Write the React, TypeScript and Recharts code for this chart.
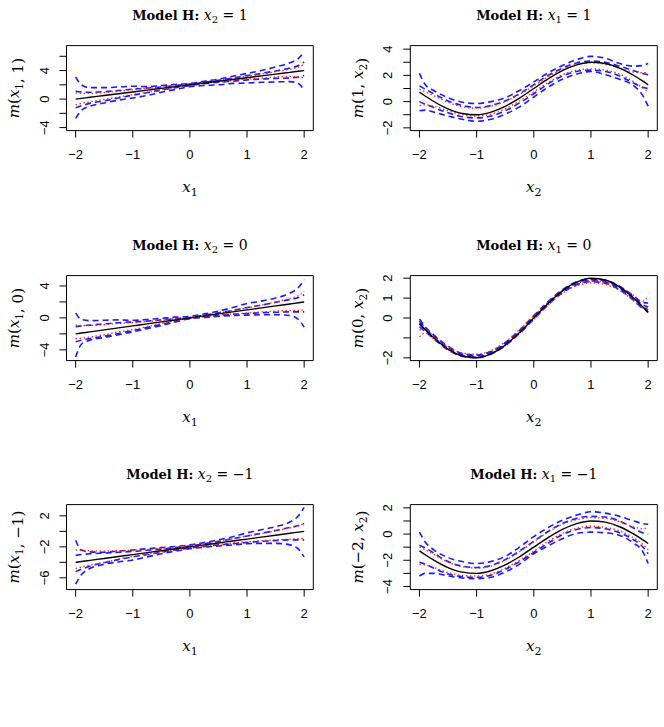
import React from "react";
import { LineChart, Line, XAxis, YAxis, ReferenceArea } from "recharts";

// Evaluation grid shared by every panel
const gridX = [-2, -1.9, -1.75, -1.5, -1.25, -1, -0.75, -0.5, -0.25, 0, 0.25, 0.5, 0.75, 1, 1.25, 1.5, 1.75, 1.9, 2];
const xTicks = [-2, -1, 0, 1, 2];

// Slice x2 = 1 : m(x1, 1)
const x2Is1True = [0, 0.1, 0.25, 0.5, 0.75, 1, 1.25, 1.5, 1.75, 2, 2.25, 2.5, 2.75, 3, 3.25, 3.5, 3.75, 3.9, 4];
const x2Is1OuterHi = [3.1, 2.0, 1.6, 1.6, 1.7, 1.8, 1.75, 1.9, 2.05, 2.2, 2.5, 2.8, 3.2, 3.6, 4.0, 4.5, 5.1, 5.7, 6.6];
const x2Is1InnerHi = [1.1, 1.0, 0.95, 1.05, 1.2, 1.4, 1.55, 1.7, 1.9, 2.1, 2.35, 2.65, 2.95, 3.3, 3.6, 3.95, 4.35, 4.7, 5.2];
const x2Is1MeanHi = [0.85, 0.8, 0.8, 0.9, 1.1, 1.3, 1.5, 1.65, 1.85, 2.05, 2.3, 2.6, 2.9, 3.2, 3.5, 3.85, 4.2, 4.5, 4.9];
const x2Is1MeanLo = [-0.8, -0.6, -0.4, -0.05, 0.3, 0.65, 0.95, 1.3, 1.6, 1.95, 2.2, 2.4, 2.6, 2.8, 2.95, 3.1, 3.2, 3.1, 3.0];
const x2Is1InnerLo = [-1.2, -0.95, -0.6, -0.25, 0.15, 0.55, 0.9, 1.25, 1.6, 1.9, 2.15, 2.35, 2.5, 2.7, 2.8, 2.9, 2.95, 3.1, 3.3];
const x2Is1OuterLo = [-2.7, -1.6, -1.0, -0.55, -0.15, 0.15, 0.5, 0.95, 1.35, 1.75, 1.9, 2.0, 2.2, 2.25, 2.35, 2.4, 2.45, 2.2, 1.2];

// Slice x1 = 1 : m(1, x2)
const x1Is1True = [0.72, 0.43, 0.01, -0.56, -0.91, -1.0, -0.8, -0.36, 0.27, 1.0, 1.73, 2.36, 2.8, 3.0, 2.91, 2.56, 1.99, 1.58, 1.28];
const x1Is1OuterHi = [2.15, 1.3, 0.85, 0.3, -0.05, -0.15, 0.0, 0.3, 0.85, 1.5, 2.2, 2.75, 3.2, 3.45, 3.3, 2.9, 2.7, 2.75, 2.9];
const x1Is1InnerHi = [1.2, 0.95, 0.6, 0.05, -0.3, -0.45, -0.3, 0.05, 0.6, 1.3, 2.0, 2.55, 2.95, 3.1, 3.0, 2.7, 2.35, 2.15, 2.05];
const x1Is1MeanHi = [0.95, 0.75, 0.45, -0.05, -0.4, -0.5, -0.35, 0.0, 0.55, 1.2, 1.9, 2.45, 2.85, 2.95, 2.85, 2.55, 2.25, 2.2, 2.2];
const x1Is1MeanLo = [-0.3, -0.25, -0.35, -0.7, -1.0, -1.1, -0.95, -0.55, 0.05, 0.75, 1.45, 2.05, 2.4, 2.5, 2.4, 2.1, 1.5, 1.05, 0.75];
const x1Is1InnerLo = [0.0, -0.2, -0.45, -0.85, -1.15, -1.25, -1.1, -0.7, -0.1, 0.6, 1.35, 1.95, 2.3, 2.4, 2.3, 1.95, 1.4, 1.1, 1.0];
const x1Is1OuterLo = [-0.7, -0.65, -0.8, -1.1, -1.35, -1.5, -1.35, -0.95, -0.4, 0.35, 1.1, 1.7, 2.1, 2.3, 2.05, 1.7, 1.2, 0.5, -0.35];

// Slice x2 = 0 : m(x1, 0)
const x2Is0True = [-2, -1.9, -1.75, -1.5, -1.25, -1, -0.75, -0.5, -0.25, 0, 0.25, 0.5, 0.75, 1, 1.25, 1.5, 1.75, 1.9, 2];
const x2Is0OuterHi = [0.6, -0.2, -0.35, -0.3, -0.25, -0.3, -0.2, -0.05, 0.1, 0.2, 0.5, 0.85, 1.3, 1.8, 2.1, 2.5, 3.1, 3.8, 4.8];
const x2Is0InnerHi = [-1.1, -1.0, -0.9, -0.75, -0.6, -0.5, -0.4, -0.25, -0.1, 0.05, 0.35, 0.65, 0.95, 1.3, 1.6, 1.95, 2.3, 2.55, 2.9];
const x2Is0MeanHi = [-0.9, -0.95, -0.95, -0.85, -0.7, -0.6, -0.45, -0.3, -0.1, 0.05, 0.35, 0.6, 0.9, 1.25, 1.6, 2.0, 2.45, 2.8, 3.3];
const x2Is0MeanLo = [-2.6, -2.55, -2.4, -2.1, -1.75, -1.45, -1.1, -0.7, -0.35, -0.05, 0.15, 0.35, 0.5, 0.6, 0.75, 0.85, 0.95, 0.95, 1.0];
const x2Is0InnerLo = [-3.0, -2.8, -2.6, -2.3, -1.95, -1.6, -1.2, -0.8, -0.4, -0.05, 0.15, 0.3, 0.45, 0.55, 0.65, 0.7, 0.75, 0.75, 0.75];
const x2Is0OuterLo = [-4.9, -3.3, -2.8, -2.45, -2.1, -1.75, -1.35, -0.95, -0.5, -0.1, 0.05, 0.2, 0.3, 0.35, 0.4, 0.4, 0.3, -0.2, -1.15];

// Slice x1 = 0 : m(0, x2)
const x1Is0True = [-0.28, -0.58, -0.99, -1.56, -1.91, -2.0, -1.8, -1.36, -0.73, 0, 0.73, 1.36, 1.8, 2.0, 1.91, 1.56, 0.99, 0.58, 0.28];
const x1Is0OuterHi = [-0.05, -0.45, -0.85, -1.42, -1.78, -1.86, -1.68, -1.24, -0.62, 0.12, 0.82, 1.42, 1.82, 1.97, 1.9, 1.6, 1.1, 0.78, 0.75];
const x1Is0InnerHi = [-0.15, -0.5, -0.9, -1.47, -1.82, -1.9, -1.72, -1.28, -0.66, 0.07, 0.78, 1.38, 1.78, 1.93, 1.86, 1.55, 1.02, 0.68, 0.55];
const x1Is0MeanHi = [-0.6, -0.6, -0.92, -1.45, -1.76, -1.82, -1.64, -1.2, -0.58, 0.12, 0.8, 1.38, 1.74, 1.86, 1.8, 1.55, 1.12, 0.85, 1.1];
const x1Is0MeanLo = [-0.95, -0.75, -1.05, -1.6, -1.9, -1.96, -1.8, -1.38, -0.76, -0.06, 0.65, 1.24, 1.62, 1.76, 1.68, 1.38, 0.86, 0.5, 0.55];
const x1Is0InnerLo = [-0.3, -0.6, -0.98, -1.54, -1.88, -1.95, -1.77, -1.33, -0.72, 0.0, 0.72, 1.32, 1.72, 1.87, 1.8, 1.48, 0.95, 0.58, 0.4];
const x1Is0OuterLo = [-0.45, -0.68, -1.05, -1.6, -1.93, -2.0, -1.82, -1.39, -0.78, -0.06, 0.66, 1.27, 1.67, 1.82, 1.75, 1.42, 0.88, 0.5, 0.3];

// Slice x2 = -1 : m(x1, -1)
const x2IsM1True = [-4, -3.9, -3.75, -3.5, -3.25, -3, -2.75, -2.5, -2.25, -2, -1.75, -1.5, -1.25, -1, -0.75, -0.5, -0.25, -0.1, 0];
const x2IsM1OuterHi = [-1.15, -2.4, -2.65, -2.7, -2.55, -2.4, -2.25, -2.1, -1.95, -1.75, -1.45, -1.1, -0.7, -0.2, 0.2, 0.6, 1.2, 2.0, 3.1];
const x2IsM1InnerHi = [-3.1, -3.0, -2.9, -2.8, -2.7, -2.6, -2.45, -2.3, -2.1, -1.9, -1.6, -1.3, -0.95, -0.6, -0.25, 0.1, 0.5, 0.75, 1.0];
const x2IsM1MeanHi = [-2.4, -2.45, -2.5, -2.55, -2.5, -2.45, -2.35, -2.2, -2.05, -1.85, -1.55, -1.25, -0.95, -0.6, -0.3, 0.05, 0.45, 0.7, 1.0];
const x2IsM1MeanLo = [-4.8, -4.6, -4.35, -4.0, -3.6, -3.25, -2.95, -2.65, -2.35, -2.1, -1.9, -1.7, -1.5, -1.35, -1.2, -1.1, -1.0, -0.95, -0.9];
const x2IsM1InnerLo = [-5.2, -4.9, -4.5, -4.05, -3.65, -3.3, -3.0, -2.7, -2.4, -2.15, -1.95, -1.75, -1.6, -1.45, -1.3, -1.2, -1.1, -1.1, -1.1];
const x2IsM1OuterLo = [-6.8, -5.6, -4.8, -4.25, -3.95, -3.7, -3.3, -2.9, -2.55, -2.25, -2.05, -1.9, -1.75, -1.6, -1.55, -1.55, -1.75, -2.3, -3.3];

// Slice x1 = -1 : m(-2, x2)
const x1IsM1True = [-1.28, -1.58, -1.99, -2.56, -2.91, -3.0, -2.8, -2.36, -1.73, -1.0, -0.27, 0.36, 0.8, 1.0, 0.91, 0.56, -0.01, -0.42, -0.72];
const x1IsM1OuterHi = [0.15, -0.6, -1.2, -1.8, -2.1, -2.25, -2.1, -1.7, -1.0, -0.2, 0.5, 1.05, 1.45, 1.7, 1.6, 1.35, 1.0, 0.8, 0.75];
const x1IsM1InnerHi = [-0.85, -1.05, -1.45, -2.1, -2.45, -2.55, -2.4, -1.95, -1.3, -0.55, 0.2, 0.8, 1.2, 1.35, 1.3, 1.0, 0.45, 0.1, 0.0];
const x1IsM1MeanHi = [-1.0, -1.2, -1.55, -2.15, -2.5, -2.6, -2.45, -2.0, -1.35, -0.6, 0.15, 0.75, 1.1, 1.25, 1.2, 0.95, 0.55, 0.4, 0.5];
const x1IsM1MeanLo = [-2.3, -2.35, -2.55, -2.95, -3.15, -3.2, -3.05, -2.6, -2.0, -1.3, -0.55, 0.05, 0.45, 0.6, 0.5, 0.25, -0.3, -0.75, -1.2];
const x1IsM1InnerLo = [-2.15, -2.3, -2.6, -3.05, -3.25, -3.3, -3.15, -2.7, -2.1, -1.4, -0.7, -0.05, 0.35, 0.5, 0.4, 0.1, -0.45, -0.95, -1.5];
const x1IsM1OuterLo = [-3.2, -3.0, -3.0, -3.2, -3.35, -3.4, -3.3, -2.9, -2.3, -1.5, -0.9, -0.35, 0.05, 0.15, 0.1, -0.1, -0.7, -1.3, -2.25];

// Y axis ticks (all tick marks) and the subset that carries a label
const yTicksA = [-4, -2, 0, 2, 4, 6];
const yLabelsA = [-4, 0, 4];
const yTicksB = [-2, -1, 0, 1, 2, 3, 4];
const yLabelsB = [-2, 0, 2, 4];
const yTicksC = [-4, -2, 0, 2, 4];
const yLabelsC = [-4, 0, 4];
const yTicksD = [-2, -1, 0, 1, 2];
const yLabelsD = [-2, 0, 1, 2];
const yTicksE = [-6, -4, -2, 0, 2];
const yLabelsE = [-6, -2, 2];
const yTicksF = [-4, -3, -2, -1, 0, 1, 2];
const yLabelsF = [-4, -2, 0, 2];

const SANS = "'Liberation Sans', Arial, Helvetica, sans-serif";
const SERIF = "'DejaVu Serif', 'Liberation Serif', serif";
const MINUS = "\u2212";
const fmt = (v: number) => (v < 0 ? MINUS + Math.abs(v) : String(v));

const PANEL_W = 332;
const PANEL_H = 230;
const PLOT_TOP = 45.6;
const PLOT_H = 85;
const X_DOMAIN: [number, number] = [-2.16, 2.16];
const COLS = [
  { left: 0, plotLeft: 66.5, right: 18.7 },
  { left: 332, plotLeft: 78.3, right: 6.7 },
];
const ROWS = [0, 230, 459];

type Spec = {
  col: number;
  row: number;
  fixed: string;
  fixedVal: string;
  yArgs: [string, string];
  xVar: string;
  yDomain: [number, number];
  yTicks: number[];
  yLabels: number[];
  truth: number[];
  outerHi: number[];
  innerHi: number[];
  meanHi: number[];
  meanLo: number[];
  innerLo: number[];
  outerLo: number[];
};

const specs: Spec[] = [
  { col: 0, row: 0, fixed: "2", fixedVal: "1", yArgs: ["x1", "1"], xVar: "1", yDomain: [-4.42, 7.5], yTicks: yTicksA, yLabels: yLabelsA,
    truth: x2Is1True, outerHi: x2Is1OuterHi, innerHi: x2Is1InnerHi, meanHi: x2Is1MeanHi, meanLo: x2Is1MeanLo, innerLo: x2Is1InnerLo, outerLo: x2Is1OuterLo },
  { col: 1, row: 0, fixed: "1", fixedVal: "1", yArgs: ["1", "x2"], xVar: "2", yDomain: [-2.21, 4.27], yTicks: yTicksB, yLabels: yLabelsB,
    truth: x1Is1True, outerHi: x1Is1OuterHi, innerHi: x1Is1InnerHi, meanHi: x1Is1MeanHi, meanLo: x1Is1MeanLo, innerLo: x1Is1InnerLo, outerLo: x1Is1OuterLo },
  { col: 0, row: 1, fixed: "2", fixedVal: "0", yArgs: ["x1", "0"], xVar: "1", yDomain: [-5.35, 5.3], yTicks: yTicksC, yLabels: yLabelsC,
    truth: x2Is0True, outerHi: x2Is0OuterHi, innerHi: x2Is0InnerHi, meanHi: x2Is0MeanHi, meanLo: x2Is0MeanLo, innerLo: x2Is0InnerLo, outerLo: x2Is0OuterLo },
  { col: 1, row: 1, fixed: "1", fixedVal: "0", yArgs: ["0", "x2"], xVar: "2", yDomain: [-2.14, 2.13], yTicks: yTicksD, yLabels: yLabelsD,
    truth: x1Is0True, outerHi: x1Is0OuterHi, innerHi: x1Is0InnerHi, meanHi: x1Is0MeanHi, meanLo: x1Is0MeanLo, innerLo: x1Is0InnerLo, outerLo: x1Is0OuterLo },
  { col: 0, row: 2, fixed: "2", fixedVal: MINUS + "1", yArgs: ["x1", MINUS + "1"], xVar: "1", yDomain: [-7.52, 3.45], yTicks: yTicksE, yLabels: yLabelsE,
    truth: x2IsM1True, outerHi: x2IsM1OuterHi, innerHi: x2IsM1InnerHi, meanHi: x2IsM1MeanHi, meanLo: x2IsM1MeanLo, innerLo: x2IsM1InnerLo, outerLo: x2IsM1OuterLo },
  { col: 1, row: 2, fixed: "1", fixedVal: MINUS + "1", yArgs: [MINUS + "2", "x2"], xVar: "2", yDomain: [-4.24, 2.25], yTicks: yTicksF, yLabels: yLabelsF,
    truth: x1IsM1True, outerHi: x1IsM1OuterHi, innerHi: x1IsM1InnerHi, meanHi: x1IsM1MeanHi, meanLo: x1IsM1MeanLo, innerLo: x1IsM1InnerLo, outerLo: x1IsM1OuterLo },
];

const BLUE_KEYS = ["outerHi", "innerHi", "innerLo", "outerLo"];
const RED_KEYS = ["meanHi", "meanLo"];

// argument of m(.,.) : either a subscripted variable or a constant
function MathArg({ a }: { a: string }) {
  if (a[0] === "x") {
    return (
      <>
        <tspan fontStyle="italic">x</tspan>
        <tspan fontSize={10.5} dy={3.5}>{a.slice(1)}</tspan>
        <tspan dy={-3.5}>{""}</tspan>
      </>
    );
  }
  return <tspan>{a}</tspan>;
}

function Panel({ spec }: { spec: Spec }) {
  const col = COLS[spec.col];
  const top = ROWS[spec.row];
  const plotW = PANEL_W - col.plotLeft - col.right;
  const plotBottom = PLOT_TOP + PLOT_H;
  const cx = col.plotLeft + plotW / 2;
  const cy = PLOT_TOP + PLOT_H / 2;
  const data = gridX.map((x, i) => ({
    x,
    truth: spec.truth[i],
    outerHi: spec.outerHi[i],
    innerHi: spec.innerHi[i],
    meanHi: spec.meanHi[i],
    meanLo: spec.meanLo[i],
    innerLo: spec.innerLo[i],
    outerLo: spec.outerLo[i],
  }));
  const yLabX = col.plotLeft - 47;
  const yTickX = col.plotLeft - 17.8;

  return (
    <div style={{ position: "absolute", left: col.left, top, width: PANEL_W, height: PANEL_H }}>
      <LineChart width={PANEL_W} height={PANEL_H} data={data} margin={{ top: PLOT_TOP, right: col.right, bottom: 0, left: 0 }}>
        <XAxis
          type="number"
          dataKey="x"
          domain={X_DOMAIN}
          allowDataOverflow
          ticks={xTicks}
          interval={0}
          height={PANEL_H - plotBottom}
          axisLine={false}
          tickSize={7}
          tickLine={{ stroke: "#000", strokeWidth: 1 }}
          tick={(p: any) => (
            <text x={p.x} y={plotBottom + 28.7} textAnchor="middle" fontFamily={SANS} fontSize={13} fill="#000">
              {fmt(p.payload.value)}
            </text>
          )}
        />
        <YAxis
          type="number"
          domain={spec.yDomain}
          allowDataOverflow
          ticks={spec.yTicks}
          interval={0}
          width={col.plotLeft}
          axisLine={false}
          tickSize={7}
          tickLine={{ stroke: "#000", strokeWidth: 1 }}
          tick={(p: any) =>
            spec.yLabels.includes(p.payload.value) ? (
              <text x={yTickX} y={p.y} transform={`rotate(-90 ${yTickX} ${p.y})`} textAnchor="middle" fontFamily={SANS} fontSize={13} fill="#000">
                {fmt(p.payload.value)}
              </text>
            ) : (
              <g />
            )
          }
        />
        {BLUE_KEYS.map((k) => (
          <Line key={k} type="monotone" dataKey={k} stroke="#1a1aff" strokeWidth={1.6} strokeDasharray="6 4" dot={false} activeDot={false} isAnimationActive={false} />
        ))}
        {RED_KEYS.map((k) => (
          <Line key={k} type="monotone" dataKey={k} stroke="#ff2020" strokeWidth={1.3} strokeDasharray="1.5 2.5" dot={false} activeDot={false} isAnimationActive={false} />
        ))}
        <Line type="monotone" dataKey="truth" stroke="#000" strokeWidth={1.4} dot={false} activeDot={false} isAnimationActive={false} />
        <ReferenceArea x1={X_DOMAIN[0]} x2={X_DOMAIN[1]} y1={spec.yDomain[0]} y2={spec.yDomain[1]} fill="none" fillOpacity={0} stroke="#000" strokeWidth={1} ifOverflow="visible" />
      </LineChart>
      <svg width={PANEL_W} height={PANEL_H} style={{ position: "absolute", left: 0, top: 0, pointerEvents: "none" }}>
        <text x={cx} y={20} textAnchor="middle" fontFamily={SERIF} fontSize={13} fill="#000">
          <tspan fontWeight="bold">Model H: </tspan>
          <tspan fontStyle="italic" fontSize={14}>x</tspan>
          <tspan fontSize={10} dy={3}>{spec.fixed}</tspan>
          <tspan fontSize={14} dy={-3}>{" = " + spec.fixedVal}</tspan>
        </text>
        <text x={cx} y={plotBottom + 61} textAnchor="middle" fontFamily={SERIF} fontSize={15} fill="#000">
          <tspan fontStyle="italic">x</tspan>
          <tspan fontSize={11} dy={4}>{spec.xVar}</tspan>
        </text>
        <text x={yLabX} y={cy} transform={`rotate(-90 ${yLabX} ${cy})`} textAnchor="middle" fontFamily={SERIF} fontSize={15} fill="#000">
          <tspan fontStyle="italic">m</tspan>
          <tspan>(</tspan>
          <MathArg a={spec.yArgs[0]} />
          <tspan>{", "}</tspan>
          <MathArg a={spec.yArgs[1]} />
          <tspan>)</tspan>
        </text>
      </svg>
    </div>
  );
}

export default function App() {
  return (
    <div style={{ position: "absolute", left: 0, top: 0, width: 664, height: 727, background: "#fff" }}>
      {specs.map((s, i) => (
        <Panel key={i} spec={s} />
      ))}
    </div>
  );
}
